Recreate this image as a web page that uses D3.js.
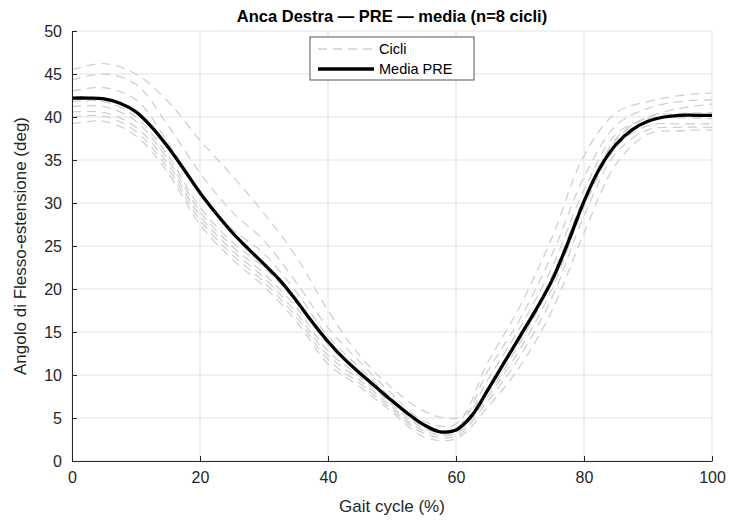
<!DOCTYPE html>
<html>
<head>
<meta charset="utf-8">
<script src="https://cdn.jsdelivr.net/npm/d3@7"></script>
<style>
  html, body { margin: 0; padding: 0; background: #fff; }
  svg { display: block; font-family: "Liberation Sans", Arial, Helvetica, sans-serif; }
</style>
</head>
<body>
<svg id="chart" width="731" height="522"></svg>
<script>
// Hip flexion-extension over the gait cycle: 8 single cycles + their mean
const xTicks = [0, 20, 40, 60, 80, 100];
const yTicks = [0, 5, 10, 15, 20, 25, 30, 35, 40, 45, 50];

// sample positions (% of gait cycle)
const cycleX = [0, 5, 10, 15, 20, 25, 30, 35, 40, 45, 50, 55, 60, 65, 70, 75, 80, 85, 90, 95, 100];
const meanX = [0, 2.5, 5, 7.5, 10, 12.5, 15, 17.5, 20, 22.5, 25, 27.5, 30, 32.5, 35, 37.5, 40, 42.5, 45, 47.5, 50,
               52.5, 55, 57.5, 60, 62.5, 65, 67.5, 70, 72.5, 75, 77.5, 80, 82.5, 85, 87.5, 90, 92.5, 95, 97.5, 100];

// single cycles (deg)
const cycle1 = [45.5, 46.2, 45.0, 41.8, 37.3, 33.2, 28.8, 23.8, 17.5, 12.2, 8.5, 5.8, 5.0, 8.0, 13.8, 20.8, 30.0, 37.5, 40.0, 41.0, 41.5];
const cycle2 = [44.3, 45.0, 43.8, 39.0, 33.5, 29.0, 25.6, 20.8, 15.5, 11.5, 7.8, 4.6, 4.3, 11.5, 18.0, 26.0, 35.5, 40.5, 41.8, 42.5, 42.8];
const cycle3 = [43.0, 43.4, 42.0, 37.0, 31.0, 27.0, 24.1, 19.7, 14.5, 10.8, 7.3, 4.2, 3.8, 10.5, 16.5, 24.0, 33.0, 39.0, 41.0, 41.8, 42.0];
const cycle4 = [41.8, 41.8, 40.0, 35.5, 29.5, 25.5, 22.5, 18.6, 13.5, 10.2, 6.9, 4.0, 3.6, 8.5, 14.5, 21.5, 30.5, 37.3, 40.0, 40.4, 40.5];
const cycle5 = [41.2, 41.2, 39.5, 35.0, 29.0, 25.0, 21.8, 17.9, 12.8, 9.8, 6.6, 3.8, 3.4, 9.5, 15.5, 22.5, 31.5, 38.0, 39.8, 39.9, 39.8];
const cycle6 = [40.6, 40.5, 38.8, 34.5, 28.5, 24.5, 21.3, 17.3, 12.3, 9.4, 6.3, 3.5, 3.2, 7.5, 13.0, 20.0, 29.5, 36.5, 39.0, 39.2, 39.2];
const cycle7 = [40.0, 40.1, 38.3, 34.0, 28.0, 24.0, 20.8, 16.8, 11.8, 9.0, 6.0, 3.2, 2.9, 7.0, 12.2, 19.0, 28.5, 35.8, 38.5, 38.8, 38.8];
const cycle8 = [39.2, 39.5, 37.8, 33.5, 27.5, 23.5, 20.3, 16.3, 11.3, 8.6, 5.7, 2.8, 2.6, 6.3, 11.0, 17.5, 26.5, 34.5, 38.0, 38.4, 38.5];

// mean of the cycles (deg)
const meanPRE = [42.2, 42.2, 42.1, 41.6, 40.6, 38.8, 36.5, 33.9, 31.2, 28.8, 26.6, 24.7, 22.9, 21.0, 18.7, 16.2, 13.9, 11.9, 10.2, 8.6, 7.0,
                 5.5, 4.2, 3.4, 3.6, 5.3, 8.3, 11.4, 14.5, 17.6, 21.0, 25.4, 30.2, 34.1, 36.8, 38.5, 39.5, 40.0, 40.2, 40.2, 40.2];

const cycles = [cycle1, cycle2, cycle3, cycle4, cycle5, cycle6, cycle7, cycle8];

const svg = d3.select("#chart");
const margin = { left: 72, right: 19, top: 31, bottom: 61 };
const W = 731, H = 522;

const x = d3.scaleLinear().domain([0, 100]).range([margin.left, W - margin.right]);
const y = d3.scaleLinear().domain([0, 50]).range([H - margin.bottom, margin.top]);

const gridColor = "#e3e3e3";
const axisColor = "#262626";

// grid
svg.append("g").selectAll("line.gx").data(xTicks).join("line")
  .attr("x1", d => x(d)).attr("x2", d => x(d))
  .attr("y1", y(0)).attr("y2", y(50))
  .attr("stroke", gridColor).attr("stroke-width", 1);
svg.append("g").selectAll("line.gy").data(yTicks).join("line")
  .attr("x1", x(0)).attr("x2", x(100))
  .attr("y1", d => y(d)).attr("y2", d => y(d))
  .attr("stroke", gridColor).attr("stroke-width", 1);

// single cycles
const lineCycle = d3.line().x((d, i) => x(cycleX[i])).y(d => y(d)).curve(d3.curveCatmullRom.alpha(0.5));
svg.append("g").selectAll("path.cycle").data(cycles).join("path")
  .attr("d", d => lineCycle(d))
  .attr("fill", "none")
  .attr("stroke", "#d0d0d0")
  .attr("stroke-width", 1.3)
  .attr("stroke-dasharray", "9,6");

// mean
const lineMean = d3.line().x((d, i) => x(meanX[i])).y(d => y(d)).curve(d3.curveCatmullRom.alpha(0.5));
svg.append("path")
  .attr("d", lineMean(meanPRE))
  .attr("fill", "none")
  .attr("stroke", "#000")
  .attr("stroke-width", 3.3)
  .attr("stroke-linejoin", "round");

// axes
const xAxis = d3.axisBottom(x).tickValues(xTicks).tickSizeInner(-5).tickSizeOuter(0).tickPadding(11);
const yAxis = d3.axisLeft(y).tickValues(yTicks).tickSizeInner(-5).tickSizeOuter(0).tickPadding(10);

const gx = svg.append("g").attr("transform", `translate(0,${y(0)})`).call(xAxis);
const gy = svg.append("g").attr("transform", `translate(${x(0)},0)`).call(yAxis);
[gx, gy].forEach(g => {
  g.select(".domain").attr("stroke", axisColor).attr("stroke-width", 1);
  g.selectAll(".tick line").attr("stroke", axisColor);
  g.selectAll(".tick text").attr("fill", axisColor)
    .style("font-size", "16px").style("font-family", "'Liberation Sans', Arial, sans-serif");
});

// title and labels
svg.append("text")
  .attr("x", (x(0) + x(100)) / 2).attr("y", 22)
  .attr("text-anchor", "middle")
  .style("font-size", "16.5px").style("font-weight", "bold").attr("fill", "#000")
  .text("Anca Destra — PRE — media (n=8 cicli)");

svg.append("text")
  .attr("x", (x(0) + x(100)) / 2).attr("y", 512)
  .attr("text-anchor", "middle")
  .style("font-size", "17px").attr("fill", axisColor)
  .text("Gait cycle (%)");

svg.append("text")
  .attr("transform", `translate(26,${(y(0) + y(50)) / 2}) rotate(-90)`)
  .attr("text-anchor", "middle")
  .style("font-size", "17px").attr("fill", axisColor)
  .text("Angolo di Flesso-estensione (deg)");

// legend
const leg = svg.append("g").attr("transform", "translate(310,37)");
leg.append("rect").attr("width", 164).attr("height", 43)
  .attr("fill", "#fff").attr("stroke", "#555").attr("stroke-width", 1);
leg.append("line").attr("x1", 8).attr("x2", 64).attr("y1", 12).attr("y2", 12)
  .attr("stroke", "#d0d0d0").attr("stroke-width", 1.3).attr("stroke-dasharray", "9,6");
leg.append("line").attr("x1", 8).attr("x2", 64).attr("y1", 32).attr("y2", 32)
  .attr("stroke", "#000").attr("stroke-width", 3.3);
leg.append("text").attr("x", 69).attr("y", 17).style("font-size", "14.5px").attr("fill", "#000").text("Cicli");
leg.append("text").attr("x", 69).attr("y", 37).style("font-size", "14.5px").attr("fill", "#000").text("Media PRE");
</script>
</body>
</html>
